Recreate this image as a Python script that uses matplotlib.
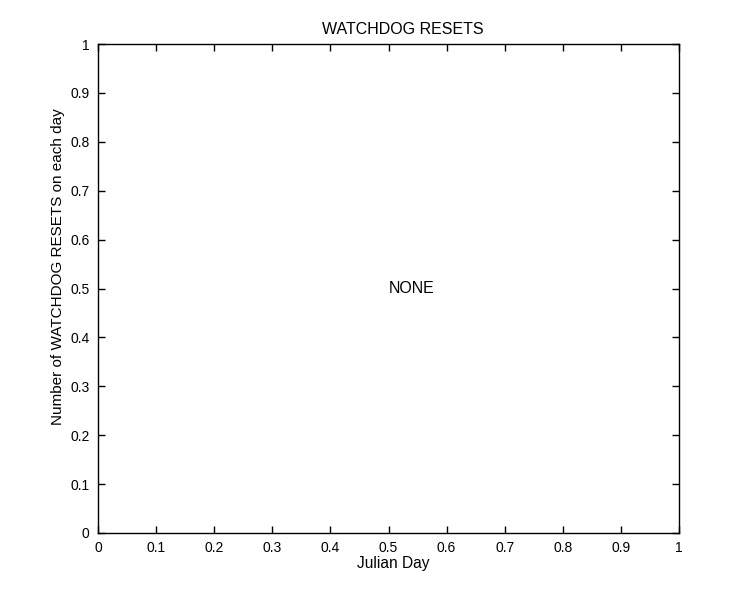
import matplotlib
matplotlib.use("Agg")
import matplotlib.pyplot as plt
import numpy as np

plt.rcParams['font.family'] = ['Liberation Sans', 'DejaVu Sans']

title = "WATCHDOG RESETS"
xlabel = "Julian Day"
ylabel = "Number of WATCHDOG RESETS on each day"
message = "NONE"
xticks = [0, 0.1, 0.2, 0.3, 0.4, 0.5, 0.6, 0.7, 0.8, 0.9, 1]
yticks = [0, 0.1, 0.2, 0.3, 0.4, 0.5, 0.6, 0.7, 0.8, 0.9, 1]
tick_labels = ["0", "0.1", "0.2", "0.3", "0.4", "0.5", "0.6", "0.7", "0.8", "0.9", "1"]

W, H = 750, 600
fig = plt.figure(figsize=(7.5, 6), dpi=100)
ax = fig.add_axes([98/W, 1 - 533/H, (679-98)/W, (533-44)/H])
ax.set_xlim(0, 1)
ax.set_ylim(0, 1)
ax.set_xticks(xticks)
ax.set_yticks(yticks)
ax.set_xticklabels(tick_labels)
ax.set_yticklabels(tick_labels)
ax.tick_params(direction='in', length=5, width=1, top=True, right=True,
               labelsize=10, colors='black')
ax.tick_params(axis='x', pad=6)
ax.tick_params(axis='y', pad=6)
for s in ax.spines.values():
    s.set_linewidth(1)

fig.text(403/W, 1 - 34/H, title, fontsize=11.5, ha='center', va='baseline')
fig.text(393/W, 1 - 568/H, xlabel, fontsize=11.2, ha='center', va='baseline')
fig.text(62/W, 1 - 267/H, ylabel, fontsize=11, ha='center', va='baseline',
         rotation=90, rotation_mode='anchor')
ax.text(0.5, 0.5, message, fontsize=11.5, ha='left', va='center')
fig.savefig("out.png", dpi=100, facecolor='white')
